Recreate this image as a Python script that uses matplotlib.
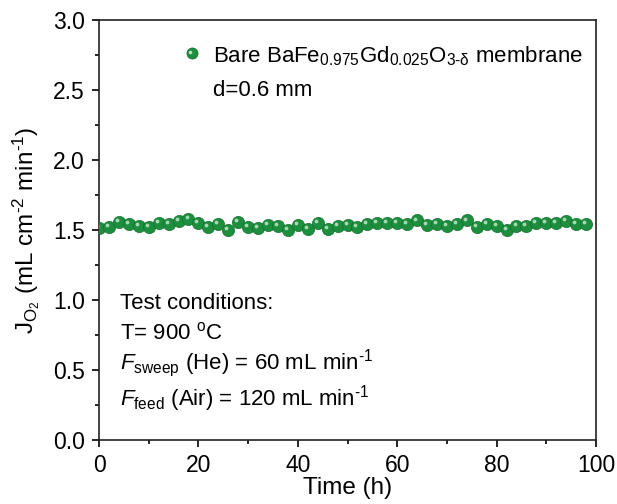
import matplotlib
matplotlib.use("Agg")
import matplotlib.pyplot as plt
import matplotlib.transforms as mtransforms
import numpy as np
from matplotlib.lines import Line2D

plt.rcParams['font.family'] = ['Liberation Sans', 'DejaVu Sans']
plt.rcParams['mathtext.fontset'] = 'custom'
plt.rcParams['mathtext.rm'] = 'Liberation Sans'
plt.rcParams['mathtext.it'] = 'Liberation Sans:italic'
plt.rcParams['mathtext.bf'] = 'Liberation Sans:bold'

time_h = list(range(0, 100, 2))
flux = [1.513, 1.525, 1.556, 1.540, 1.530, 1.520, 1.549, 1.544, 1.563, 1.580,
        1.549, 1.525, 1.544, 1.500, 1.556, 1.520, 1.513, 1.537, 1.530, 1.500,
        1.537, 1.510, 1.549, 1.505, 1.530, 1.535, 1.525, 1.544, 1.549, 1.550,
        1.550, 1.544, 1.568, 1.537, 1.540, 1.530, 1.544, 1.568, 1.525, 1.540,
        1.530, 1.497, 1.530, 1.527, 1.550, 1.550, 1.549, 1.563, 1.540, 1.540]

xticks = [0, 20, 40, 60, 80, 100]
yticks = [0.0, 0.5, 1.0, 1.5, 2.0, 2.5, 3.0]

green = '#1c8e3e'
dark = '#13702f'
light = '#b5e2c0'

fig = plt.figure(figsize=(6.17, 5.04), dpi=100)
ax = fig.add_axes([99/617, 1-440/504, (596-99)/617, (440-20)/504])

ms = 8.8
ax.plot(time_h, flux, linestyle='none', marker='o', ms=ms,
        mfc=green, mec=dark, mew=0.5, zorder=3)
hl = mtransforms.offset_copy(ax.transData, fig=fig, x=-1.4, y=1.4, units='points')
ax.plot(time_h, flux, linestyle='none', marker='o', ms=2.7,
        mfc=light, mec='none', transform=hl, zorder=4, alpha=0.9)

ax.set_xlim(0, 100)
ax.set_ylim(0, 3.0)
ax.set_xticks(xticks)
ax.set_yticks(yticks)
ax.set_xticklabels([str(t) for t in xticks])
ax.set_yticklabels([f'{t:.1f}' for t in yticks])
ax.set_xticks(np.arange(10, 100, 20), minor=True)
ax.set_yticks(np.arange(0.25, 3.0, 0.5), minor=True)
ax.tick_params(which='major', direction='out', length=5, width=1.2, labelsize=16.5, pad=5)
ax.tick_params(which='minor', direction='out', length=3, width=1.2)
for s in ax.spines.values():
    s.set_linewidth(1.2)
    s.set_color('#222222')

ax.set_xlabel('Time (h)', fontsize=17.5, labelpad=0)
ax.set_ylabel(r'J$_{\mathrm{O_2}}$ (mL cm$^{\text{-2}}$ min$^{\text{-1}}$)', fontsize=17.5, labelpad=8)

def px(x, y):
    return (x / 617, 1 - y / 504)

fs = 16
fig.add_artist(Line2D([191.5/617], [1-53.3/504], marker='o', ms=8.0, mfc=green, mec=dark, mew=0.5,
                      transform=fig.transFigure))
fig.add_artist(Line2D([190.3/617], [1-51.5/504], marker='o', ms=2.6, mfc=light, mec='none',
                      transform=fig.transFigure))
fig.text(*px(213, 62), r'Bare BaFe$_{0.975}$Gd$_{0.025}$O$_{\text{3-δ}}$ membrane',
         fontsize=fs, va='baseline', ha='left')
fig.text(*px(213, 96), 'd=0.6 mm', fontsize=fs, va='baseline', ha='left')

fig.text(*px(120, 309), 'Test conditions:', fontsize=fs, va='baseline', ha='left')
fig.text(*px(120, 339), r'T= 900 $^{\mathrm{o}}$C', fontsize=fs, va='baseline', ha='left')
fig.text(*px(120, 369), r'$\mathit{F}_{\mathrm{sweep}}$ (He) = 60 mL min$^{\text{-1}}$',
         fontsize=fs, va='baseline', ha='left')
fig.text(*px(120, 405), r'$\mathit{F}_{\mathrm{feed}}$ (Air) = 120 mL min$^{\text{-1}}$',
         fontsize=fs, va='baseline', ha='left')

fig.savefig('out.png', dpi=100)
